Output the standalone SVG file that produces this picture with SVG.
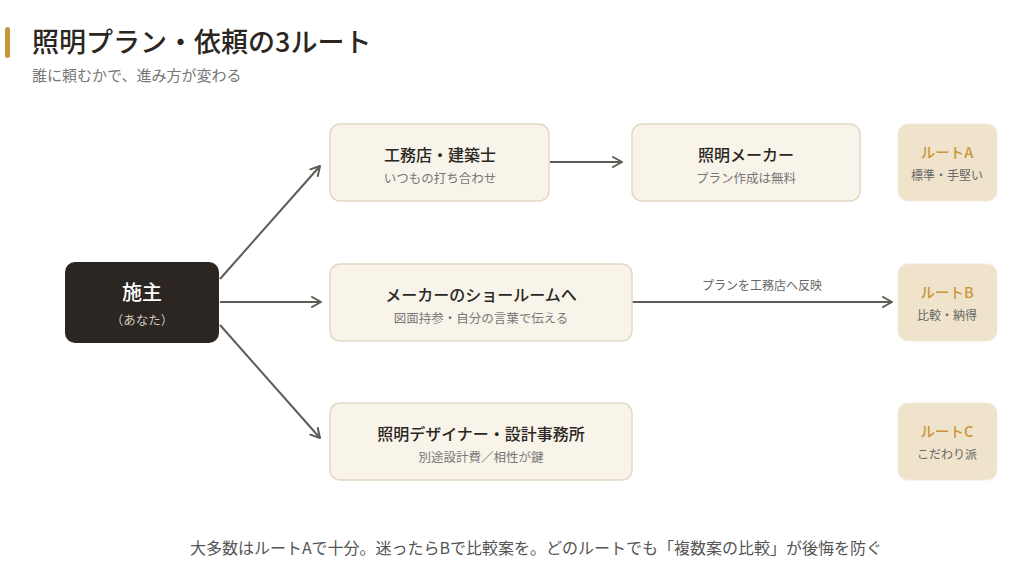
<svg xmlns="http://www.w3.org/2000/svg" width="1024" height="585" viewBox="0 0 1024 585">
<defs>
<marker id="arr" viewBox="0 0 12 12" refX="10" refY="6" markerWidth="12" markerHeight="12" markerUnits="userSpaceOnUse" orient="auto">
<path d="M1,1 L10,6 L1,11" fill="none" stroke="#5E5A55" stroke-width="2" stroke-linecap="round" stroke-linejoin="round"/>
</marker>
<style>
text{font-family:"Noto Sans CJK JP","Noto Sans",sans-serif;}
.box{fill:#F9F4EA;stroke:#E3D8C3;stroke-width:1.5;}
.route{fill:#F0E3CB;stroke:#F3EADB;stroke-width:1;}
.t{font-size:16px;font-weight:500;fill:#2B2622;text-anchor:middle;}
.s{font-size:12.5px;fill:#777;text-anchor:middle;}
.rt{font-size:14.5px;font-weight:500;fill:#C8963A;text-anchor:middle;}
.rs{font-size:12px;fill:#666;text-anchor:middle;}
.c{fill:none;stroke:#5E5A55;stroke-width:2;}
</style>
</defs>
<rect width="1024" height="585" fill="#FFFFFF"/>
<g id="header">
<rect x="5" y="27" width="5" height="31" rx="2.5" fill="#C8963A"/>
<text x="32" y="52" style="font-size:27px;font-weight:500;fill:#2B2622;">照明プラン・依頼の3ルート</text>
<text x="32" y="81" style="font-size:15px;fill:#777;">誰に頼むかで、進み方が変わる</text>
</g>
<g id="connectors">
<line class="c" x1="220" y1="279" x2="320" y2="166" marker-end="url(#arr)"/>
<line class="c" x1="220" y1="302" x2="321" y2="302" marker-end="url(#arr)"/>
<line class="c" x1="220" y1="325" x2="320" y2="438" marker-end="url(#arr)"/>
<line class="c" x1="550" y1="162" x2="622" y2="162" marker-end="url(#arr)"/>
<line class="c" x1="632" y1="302" x2="892" y2="302" marker-end="url(#arr)"/>
<text x="762" y="290" style="font-size:12px;fill:#666;text-anchor:middle;">プランを工務店へ反映</text>
</g>
<g id="owner">
<rect x="65" y="262" width="154" height="81" rx="10" fill="#2B2622"/>
<text x="142" y="300" style="font-size:20px;font-weight:500;fill:#FFFFFF;text-anchor:middle;">施主</text>
<text x="142" y="325" style="font-size:12.5px;fill:#CFC8BE;text-anchor:middle;">（あなた）</text>
</g>
<g id="builder">
<rect class="box" x="330" y="124" width="219" height="77" rx="10"/>
<text class="t" x="440" y="161">工務店・建築士</text>
<text class="s" x="440" y="183">いつもの打ち合わせ</text>
</g>
<g id="maker">
<rect class="box" x="632" y="124" width="228" height="77" rx="10"/>
<text class="t" x="746" y="161">照明メーカー</text>
<text class="s" x="746" y="183">プラン作成は無料</text>
</g>
<g id="showroom">
<rect class="box" x="330" y="264" width="302" height="77" rx="10"/>
<text class="t" x="481" y="301">メーカーのショールームへ</text>
<text class="s" x="481" y="323">図面持参・自分の言葉で伝える</text>
</g>
<g id="designer">
<rect class="box" x="330" y="403" width="302" height="77" rx="10"/>
<text class="t" x="481" y="440">照明デザイナー・設計事務所</text>
<text class="s" x="481" y="462">別途設計費／相性が鍵</text>
</g>
<g id="routeA">
<rect class="route" x="898" y="124" width="99" height="77" rx="10"/>
<text class="rt" x="947" y="158">ルートA</text>
<text class="rs" x="947" y="180">標準・手堅い</text>
</g>
<g id="routeB">
<rect class="route" x="898" y="264" width="99" height="77" rx="10"/>
<text class="rt" x="947" y="298">ルートB</text>
<text class="rs" x="947" y="320">比較・納得</text>
</g>
<g id="routeC">
<rect class="route" x="898" y="403" width="99" height="77" rx="10"/>
<text class="rt" x="947" y="437">ルートC</text>
<text class="rs" x="947" y="459">こだわり派</text>
</g>
<g id="footer">
<text x="536" y="554" style="font-size:16px;fill:#555;text-anchor:middle;">大多数はルートAで十分。迷ったらBで比較案を。どのルートでも「複数案の比較」が後悔を防ぐ</text>
</g>
</svg>
